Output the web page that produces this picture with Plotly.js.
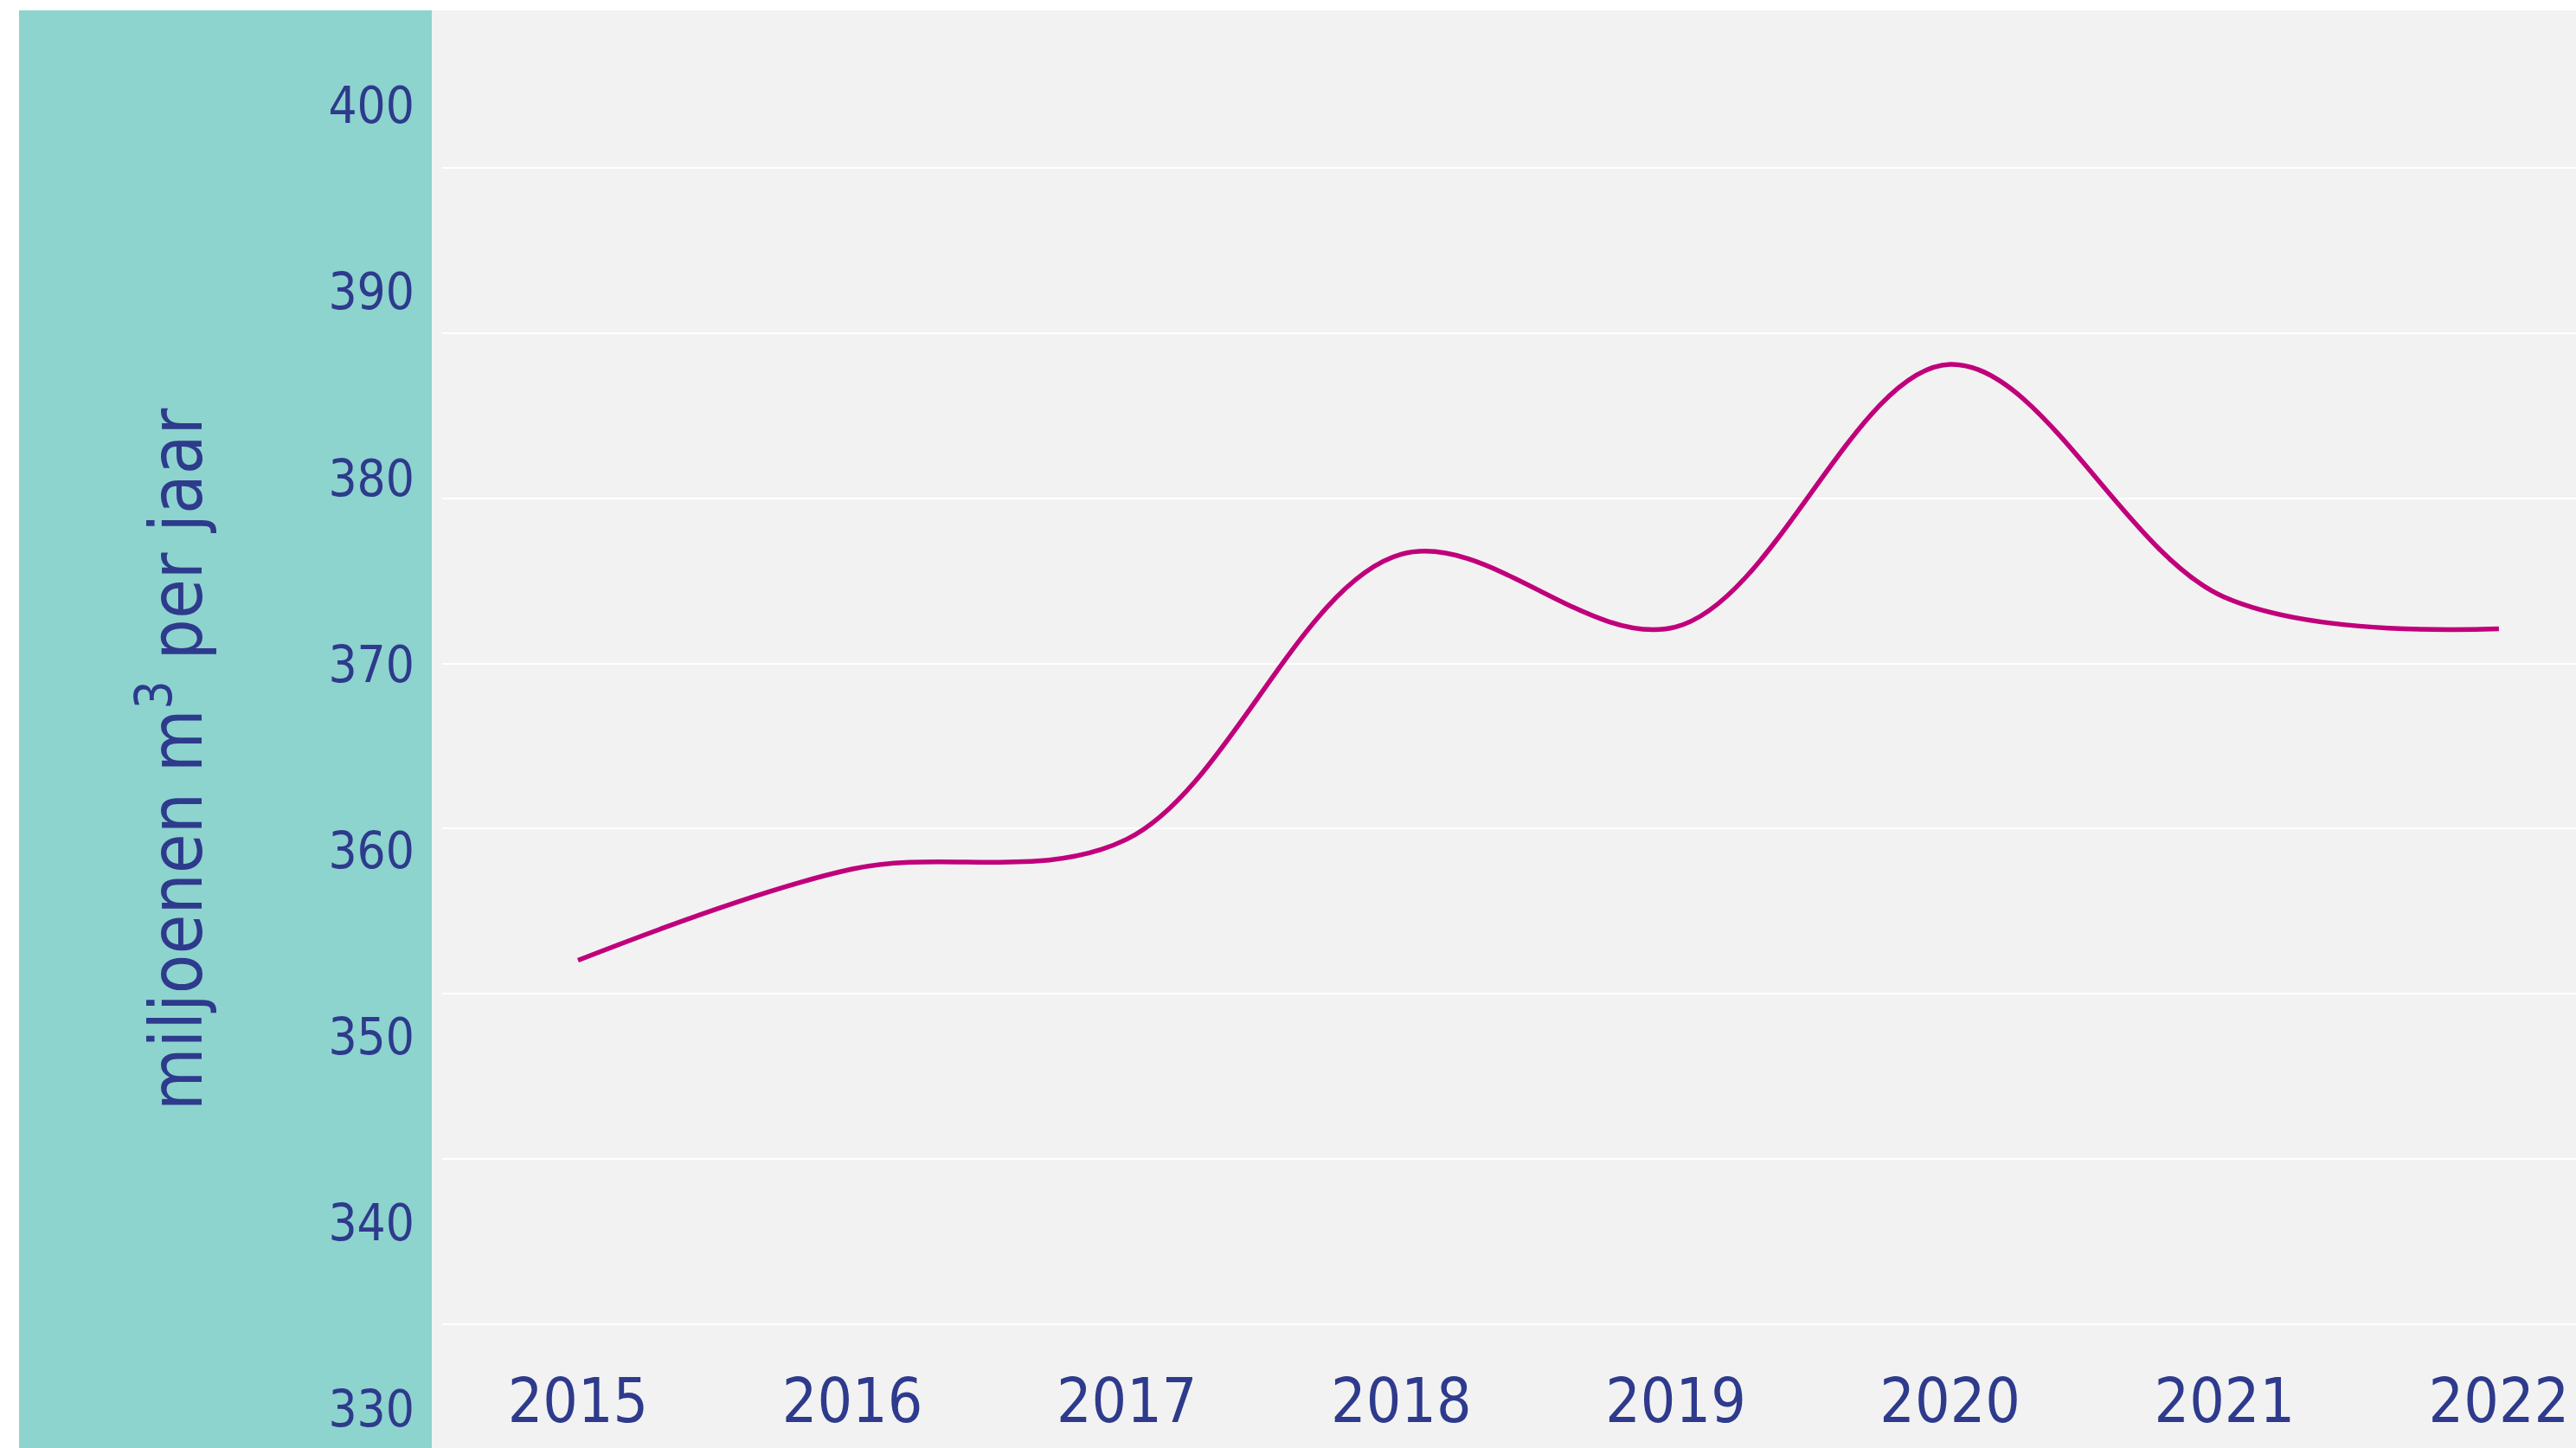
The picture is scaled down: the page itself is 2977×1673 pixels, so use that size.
<!DOCTYPE html>
<html>
<head>
<meta charset="utf-8">
<script src="https://cdn.plot.ly/plotly-3.0.1.min.js"></script>
<style>
  html, body { margin: 0; padding: 0; background: #ffffff; width: 2977px; height: 1673px; overflow: hidden; }
  #chart { position: absolute; left: 22px; top: 12px; width: 2955px; height: 1731px; }
</style>
</head>
<body>
<div id="chart"></div>
<script>
// Data
const years = [2015, 2016, 2017, 2018, 2019, 2020, 2021, 2022];
const volumes = [354.1, 359.0, 360.6, 375.9, 372.0, 386.1, 373.6, 371.9];
const yTickValues = [330, 340, 350, 360, 370, 380, 390, 400];
const yTickLabels = ['330', '340', '350', '360', '370', '380', '390', '400'];
const yTitle = 'miljoenen m<sup>3</sup> per jaar';

const FONT = 'DejaVu Sans Condensed, DejaVu Sans, Verdana, sans-serif';
const TEXT = '#2e3a8c';

const lineTrace = {
  x: years,
  y: volumes,
  xaxis: 'x',
  yaxis: 'y2',
  type: 'scatter',
  mode: 'lines',
  line: { color: '#c0007b', width: 5.5, shape: 'spline', smoothing: 1 },
  hoverinfo: 'skip',
  showlegend: false
};

// empty helper trace so that the gridline axis gets its own subplot
const gridTrace = {
  x: [],
  y: [],
  xaxis: 'x',
  yaxis: 'y',
  type: 'scatter',
  mode: 'lines',
  hoverinfo: 'skip',
  showlegend: false
};

const layout = {
  width: 2955,
  height: 1731,
  autosize: false,
  margin: { l: 489, r: 0, t: 0, b: 0, pad: 0 },
  paper_bgcolor: '#f2f2f2',
  plot_bgcolor: 'rgba(0,0,0,0)',
  showlegend: false,
  font: { family: FONT, color: TEXT },
  xaxis: {
    range: [2014.505, 2022.281],
    tickvals: years,
    ticktext: years.map(String),
    showgrid: false,
    zeroline: false,
    showline: false,
    ticks: '',
    anchor: 'free',
    position: 0.0994,
    tickfont: { family: FONT, size: 71, color: TEXT },
    fixedrange: true
  },
  yaxis: {
    range: [318.84, 409.54],
    tickvals: yTickValues,
    showticklabels: false,
    showgrid: true,
    gridcolor: '#ffffff',
    gridwidth: 2,
    zeroline: false,
    showline: false,
    ticks: '',
    fixedrange: true
  },
  yaxis2: {
    overlaying: 'y',
    side: 'left',
    range: [324.655, 405.11],
    tickvals: yTickValues,
    ticktext: yTickLabels,
    showgrid: false,
    zeroline: false,
    showline: false,
    ticks: '',
    ticklabelstandoff: 31,
    tickfont: { family: FONT, size: 58, color: TEXT },
    title: { text: yTitle, font: { family: FONT, size: 83, color: TEXT }, standoff: 118 },
    fixedrange: true
  },
  shapes: [{
    type: 'rect',
    xref: 'paper', yref: 'paper',
    xsizemode: 'pixel', xanchor: 0,
    x0: -489, x1: -12,
    y0: 0, y1: 1,
    fillcolor: '#8dd3ce',
    line: { width: 0 },
    layer: 'below'
  }]
};

Plotly.newPlot('chart', [gridTrace, lineTrace], layout, { displayModeBar: false, staticPlot: true });
</script>
</body>
</html>
